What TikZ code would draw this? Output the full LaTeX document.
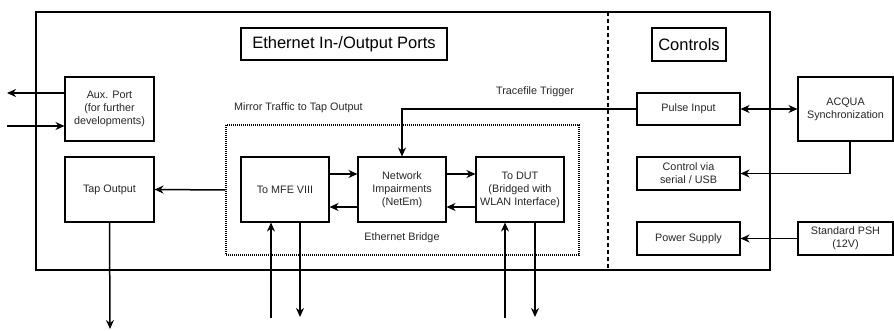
\documentclass[tikz,border=0pt]{standalone}
\usepackage{fontspec}
\setmainfont{Liberation Sans}
\usetikzlibrary{arrows.meta}
\begin{document}
\begin{tikzpicture}[x=1pt,y=-1pt,
  box/.style={draw, line width=1.1pt, inner sep=1pt, align=center, text=black!85, font=\fontsize{10.8}{13}\selectfont},
  title/.style={draw, line width=1.2pt, inner sep=1pt, align=center, font=\fontsize{16.5}{19}\selectfont},
  lbl/.style={inner sep=0pt, text=black!85, font=\fontsize{10.8}{13}\selectfont},
  arr/.style={line width=1.5pt, -{Stealth[length=9pt,width=8pt]}},
  darr/.style={line width=1.5pt, {Stealth[length=9pt,width=8pt]}-{Stealth[length=9pt,width=8pt]}}
]
\useasboundingbox (0,0) rectangle (894,331);
% outer frame
\node[draw, line width=1.4pt, minimum width=734, minimum height=258, inner sep=0pt] (outer) at (403,141) {};
\coordinate (dtop) at (608,12);
\coordinate (dbot) at (608,270);
\draw[line width=1.1pt, dash pattern=on 4pt off 3pt] (dtop) -- (dbot);
% titles
\node[title, minimum width=206, minimum height=32] (eth) at (344,44) {Ethernet In-/Output Ports};
\node[title, minimum width=74, minimum height=33] (ctl) at (689,44.5) {Controls};
% bridge
\node[draw, line width=1.1pt, dash pattern=on 1pt off 1pt, minimum width=353, minimum height=130, inner sep=0pt] (bridge) at (402.5,190) {};
\node[lbl] (ebl) at (402,238) {Ethernet Bridge};
\node[lbl, anchor=west] (mir) at (234,108) {Mirror Traffic to Tap Output};
\node[lbl] (trl) at (535,92) {Tracefile Trigger};
% boxes
\node[box, minimum width=89, minimum height=64] (aux) at (109.5,109) {Aux. Port\\(for further\\developments)};
\node[box, minimum width=89, minimum height=65] (tap) at (109.5,189.5) {Tap Output};
\node[box, minimum width=88, minimum height=65] (mfe) at (285,189.5) {To MFE VIII};
\node[box, minimum width=88, minimum height=65] (ni) at (402,189.5) {Network\\Impairments\\(NetEm)};
\node[box, minimum width=88, minimum height=65] (dut) at (520,189.5) {To DUT\\(Bridged with\\WLAN Interface)};
\node[box, minimum width=103, minimum height=32] (pulse) at (688.5,109) {Pulse Input};
\node[box, minimum width=103, minimum height=33] (cser) at (688.5,173.5) {Control via\\serial / USB};
\node[box, minimum width=103, minimum height=33] (pow) at (688.5,238.5) {Power Supply};
\node[box, minimum width=95, minimum height=64] (acq) at (845.5,109) {ACQUA\\Synchronization};
\node[box, minimum width=95, minimum height=33] (psh) at (845.5,238.5) {Standard PSH\\(12V)};
% free ends
\coordinate (auxout) at (7,93);
\coordinate (auxin) at (7,126);
\coordinate (tapend) at (110,329);
\coordinate (mfein) at (271,318);
\coordinate (mfeout) at (300,317);
\coordinate (dutin) at (505,318);
\coordinate (dutout) at (535,317);
% connectors
\draw[arr] (aux.west |- auxout) -- (auxout);
\draw[arr] (auxin) -- (aux.west |- auxin);
\draw[arr] (bridge.west) -- (tap.east);
\draw[arr] (tap.south) -- (tapend);
\draw[arr, line width=1.9pt] (mfe.east |- 0,174) -- (ni.west |- 0,174);
\draw[arr] (ni.west |- 0,207) -- (mfe.east |- 0,207);
\draw[arr, line width=1.9pt] (ni.east |- 0,174) -- (dut.west |- 0,174);
\draw[arr] (dut.west |- 0,207) -- (ni.east |- 0,207);
\draw[arr] (mfein) -- (mfein |- mfe.south);
\draw[arr] (mfeout |- mfe.south) -- (mfeout);
\draw[arr] (dutin) -- (dutin |- dut.south);
\draw[arr] (dutout |- dut.south) -- (dutout);
\draw[arr, line width=1.1pt] (pulse.west) -| (ni.north);
\draw[darr] (pulse.east) -- (acq.west);
\draw[arr] ([xshift=4.5pt]acq.south) |- (cser.east);
\draw[arr] (psh.west) -- (pow.east);
\end{tikzpicture}
\end{document}
